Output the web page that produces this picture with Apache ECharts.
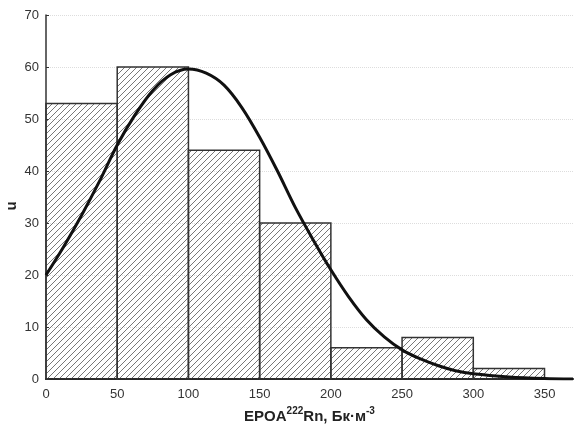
<!DOCTYPE html>
<html lang="ru">
<head>
    <meta charset="UTF-8">
    <title>EPOA 222Rn</title>
    <script src="https://cdn.jsdelivr.net/npm/echarts@6/dist/echarts.min.js"></script>
    <style>
        body { margin: 0; background: #fff; }
    </style>
</head>
<body>
    <div id="chart_div" style="width: 574px; height: 431px;"></div>
</body>
    <script type="text/javascript">

       // histogram bins (left edge, width 50) and counts
       var binStart = [0, 50, 100, 150, 200, 250, 300];
       var binWidth = 50;
       var counts = [53, 60, 44, 30, 6, 8, 2];

       // fitted curve
       var curveX = [0, 12.5, 25, 37.5, 50, 62.5, 75, 87.5, 100, 112.5, 125, 137.5, 150, 162.5, 175, 187.5, 200, 212.5, 225, 237.5, 250, 262.5, 275, 287.5, 300, 325, 350, 370];
       var curveY = [20, 25.5, 31.5, 38, 45, 50.8, 55.5, 58.5, 59.6, 58.8, 56.5, 52.2, 46.5, 40, 33, 26.8, 21, 15.8, 11.4, 8.1, 5.6, 3.9, 2.6, 1.6, 1.0, 0.4, 0.1, 0];

       var xTicks = [0, 50, 100, 150, 200, 250, 300, 350];

       // hatch pattern "/"
       var tile = document.createElement('canvas');
       tile.width = 6; tile.height = 6;
       var ctx = tile.getContext('2d');
       ctx.strokeStyle = '#555';
       ctx.lineWidth = 0.8;
       ctx.beginPath();
       ctx.moveTo(-1, 7); ctx.lineTo(7, -1);
       ctx.moveTo(-1, 1); ctx.lineTo(1, -1);
       ctx.moveTo(5, 7); ctx.lineTo(7, 5);
       ctx.stroke();

       var barData = [];
       for (var i = 0; i < counts.length; i++) {
           barData.push([binStart[i], binStart[i] + binWidth, counts[i]]);
       }
       var lineData = [];
       for (var j = 0; j < curveX.length; j++) {
           lineData.push([curveX[j], curveY[j]]);
       }

       var chart = echarts.init(document.getElementById("chart_div"));
       var options = {
            animation: false,
            grid: { left: 46, right: 1, top: 15, bottom: 52, outerBoundsMode: 'none', containLabel: false },
            // y axis title "u"
            graphic: [{
                type: 'text',
                x: 12,
                y: 206,
                rotation: Math.PI / 2,
                style: {
                    text: 'u',
                    font: 'bold 15px "Liberation Sans"',
                    fill: '#222',
                    align: 'center',
                    verticalAlign: 'middle'
                }
            }],
            xAxis: {
                type: 'value',
                min: 0,
                max: 370,
                interval: 50,
                name: '{b|EPOA}{sup|222}{b|Rn, Бк·м}{sup|-3}',
                nameLocation: 'middle',
                nameGap: 26,
                nameTextStyle: {
                    rich: {
                        b: { fontFamily: 'Liberation Sans', fontWeight: 'bold', fontSize: 15, color: '#222', lineHeight: 18, verticalAlign: 'bottom' },
                        sup: { fontFamily: 'Liberation Sans', fontWeight: 'bold', fontSize: 10, color: '#222', lineHeight: 18, verticalAlign: 'top', padding: [0, 0, 6, 0] }
                    }
                },
                axisLine: { lineStyle: { color: '#111', width: 2 } },
                axisTick: { show: false },
                splitLine: { show: false },
                axisLabel: {
                    fontFamily: 'Liberation Sans', fontSize: 13, color: '#333', margin: 9,
                    showMaxLabel: false,
                    formatter: function (v) { return xTicks.indexOf(v) >= 0 ? v : ''; }
                }
            },
            yAxis: {
                type: 'value',
                min: 0,
                max: 70,
                interval: 10,
                axisLine: { show: true, lineStyle: { color: '#333', width: 1.5 } },
                axisTick: { show: true, inside: true, length: 3, lineStyle: { color: '#333' } },
                splitLine: { show: true, lineStyle: { color: '#ddd', type: 'dotted', width: 1 } },
                axisLabel: { fontFamily: 'Liberation Sans', fontSize: 13, color: '#333', margin: 7 }
            },
            series: [
                {
                    type: 'custom',
                    data: barData,
                    encode: { x: [0, 1], y: 2 },
                    renderItem: function (params, api) {
                        var p0 = api.coord([api.value(0), api.value(2)]);
                        var p1 = api.coord([api.value(1), 0]);
                        return {
                            type: 'rect',
                            shape: { x: p0[0], y: p0[1], width: p1[0] - p0[0], height: p1[1] - p0[1] },
                            style: {
                                fill: { image: tile, repeat: 'repeat' },
                                stroke: '#333',
                                lineWidth: 1.5
                            }
                        };
                    },
                    z: 2
                },
                {
                    type: 'line',
                    data: lineData,
                    smooth: 0.3,
                    showSymbol: false,
                    lineStyle: { color: '#111', width: 3 },
                    z: 3
                }
            ]
       };
       chart.setOption(options);

    </script>
</html>
